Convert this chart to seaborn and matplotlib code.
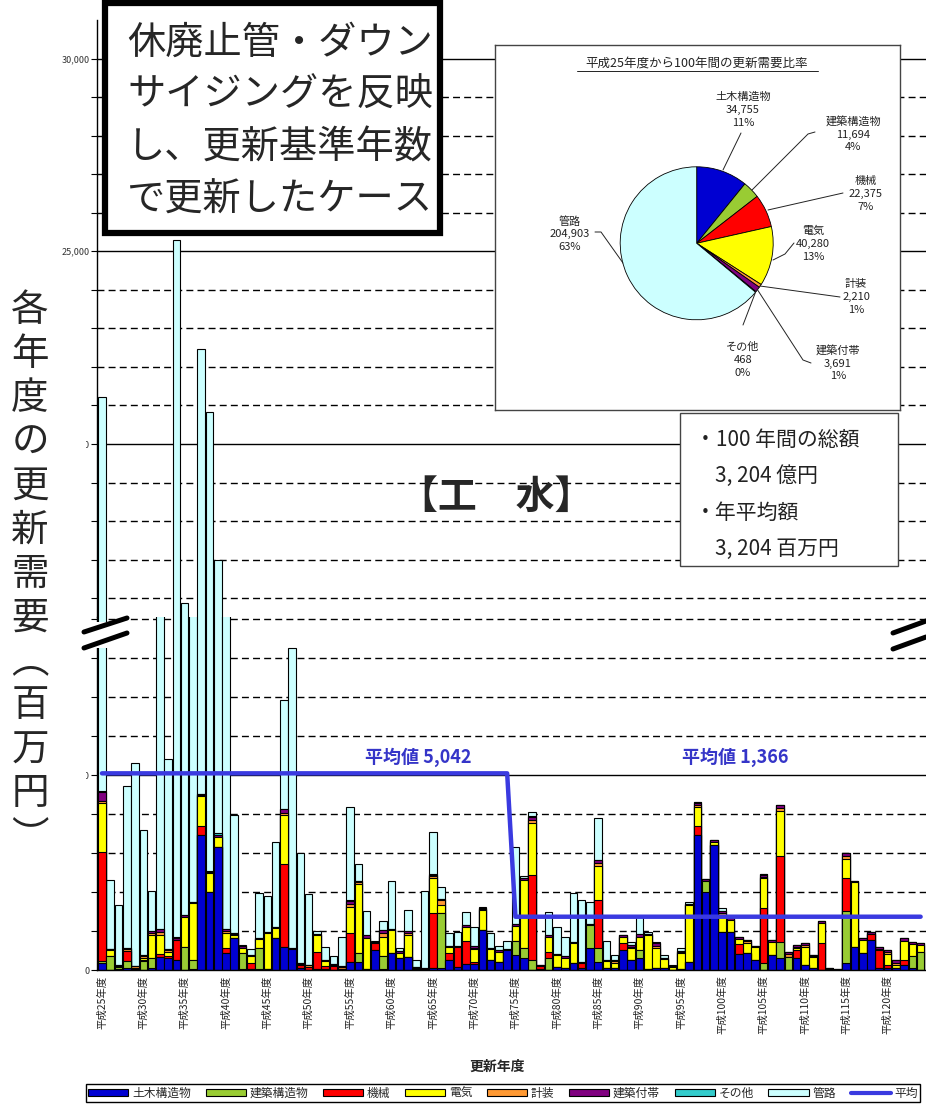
import numpy as np
import pandas as pd
import matplotlib
matplotlib.use("Agg")
import matplotlib.pyplot as plt
from matplotlib.patches import Rectangle, Patch
from matplotlib.lines import Line2D
import seaborn as sns

# ---------------- data (百万円) ----------------
fiscal_years = [f"平成{n}年度" for n in range(25, 125)]
categories = ["土木構造物", "建築構造物", "機械", "電気", "計装", "建築付帯", "その他", "管路"]

civil = [190, 0, 30, 40, 20, 0, 50, 340, 300, 260,
         0, 30, 3460, 2010, 3160, 430, 810, 30, 20, 30,
         30, 810, 590, 550, 60, 0, 30, 30, 0, 30,
         210, 215, 20, 510, 20, 430, 300, 340, 30, 30,
         60, 50, 255, 80, 150, 150, 1030, 250, 215, 515,
         385, 300, 0, 30, 0, 80, 50, 170, 60, 555,
         215, 40, 40, 515, 260, 300, 20, 60, 40, 0,
         30, 215, 3470, 2010, 3210, 985, 985, 400, 430, 260,
         0, 385, 300, 0, 300, 130, 40, 0, 20, 0,
         170, 600, 430, 770, 40, 60, 40, 130, 60, 0]
building = [40, 360, 40, 200, 40, 220, 250, 0, 0, 0,
            600, 230, 0, 0, 0, 0, 0, 400, 0, 530,
            0, 0, 0, 0, 0, 0, 0, 0, 0, 0,
            0, 215, 0, 0, 340, 0, 0, 0, 0, 0,
            0, 1400, 0, 0, 0, 0, 0, 0, 0, 0,
            360, 260, 260, 0, 300, 0, 0, 0, 0, 600,
            345, 0, 0, 0, 0, 215, 0, 0, 0, 0,
            0, 0, 0, 275, 0, 0, 0, 0, 0, 0,
            170, 0, 430, 345, 0, 0, 0, 0, 0, 0,
            1330, 0, 0, 0, 0, 0, 0, 0, 300, 470]
machinery = [2800, 0, 0, 250, 0, 40, 0, 80, 60, 510,
             0, 0, 220, 0, 0, 130, 0, 0, 170, 0,
             0, 0, 2140, 0, 80, 80, 440, 80, 100, 0,
             730, 0, 0, 170, 0, 0, 0, 0, 0, 0,
             1390, 0, 175, 520, 600, 60, 0, 0, 0, 0,
             0, 0, 2180, 80, 170, 0, 0, 0, 110, 0,
             1240, 0, 0, 170, 0, 0, 0, 0, 0, 0,
             0, 0, 210, 0, 0, 0, 0, 260, 0, 0,
             1410, 0, 2180, 0, 215, 0, 0, 680, 0, 0,
             850, 0, 0, 160, 470, 80, 0, 130, 0, 0]
electrical = [1240, 150, 0, 0, 0, 60, 600, 480, 90, 0,
              770, 1450, 770, 470, 260, 380, 90, 130, 160, 240,
              930, 260, 1240, 0, 0, 0, 430, 120, 0, 0,
              680, 1775, 790, 0, 495, 595, 130, 560, 0, 0,
              900, 220, 170, 0, 365, 320, 510, 290, 255, 0,
              385, 1750, 1330, 0, 385, 300, 270, 515, 0, 0,
              870, 200, 150, 150, 300, 340, 880, 500, 250, 80,
              400, 1450, 510, 0, 80, 430, 300, 130, 255, 340,
              770, 345, 1170, 0, 50, 470, 300, 515, 0, 0,
              490, 1650, 340, 0, 0, 280, 100, 480, 300, 170]
instrument = [50, 20, 20, 60, 30, 40, 50, 80, 60, 0,
              0, 0, 30, 0, 0, 60, 20, 0, 0, 0,
              0, 0, 60, 0, 20, 40, 0, 0, 40, 40,
              80, 40, 0, 0, 90, 0, 0, 40, 30, 0,
              50, 130, 0, 0, 0, 40, 20, 0, 0, 0,
              0, 0, 80, 0, 0, 0, 0, 0, 0, 0,
              80, 0, 40, 0, 40, 0, 0, 60, 0, 20,
              30, 0, 40, 0, 0, 40, 0, 0, 65, 0,
              30, 0, 80, 60, 30, 40, 20, 0, 0, 0,
              70, 0, 0, 0, 40, 40, 35, 0, 0, 0]
attached = [250, 15, 40, 25, 15, 20, 40, 60, 25, 50,
            50, 25, 20, 25, 50, 45, 40, 60, 30, 25,
            25, 25, 90, 25, 20, 20, 25, 20, 25, 40,
            70, 40, 90, 40, 80, 30, 50, 55, 20, 20,
            35, 25, 25, 25, 50, 40, 40, 25, 40, 20,
            45, 50, 70, 25, 30, 25, 40, 40, 25, 30,
            60, 20, 25, 50, 40, 60, 30, 60, 20, 15,
            25, 20, 50, 55, 40, 50, 40, 50, 25, 20,
            50, 45, 60, 45, 40, 40, 25, 65, 20, 15,
            80, 25, 40, 35, 30, 40, 70, 80, 50, 40]
other = [30, 0, 0, 0, 0, 0, 0, 0, 0, 30,
         0, 0, 20, 30, 30, 0, 0, 0, 0, 0,
         0, 0, 20, 0, 0, 0, 0, 0, 0, 0,
         20, 0, 0, 0, 0, 0, 0, 0, 0, 0,
         20, 0, 0, 0, 0, 0, 0, 0, 0, 0,
         0, 0, 20, 0, 0, 0, 0, 0, 0, 0,
         20, 0, 0, 0, 0, 0, 0, 0, 0, 0,
         0, 0, 20, 0, 0, 0, 0, 0, 0, 0,
         20, 0, 20, 0, 0, 0, 0, 0, 0, 0,
         20, 0, 0, 0, 0, 0, 0, 0, 0, 0]
pipeline = [16630, 1770, 1540, 4155, 5190, 3200, 1040, 11930, 4880, 24430,
            14460, 11050, 17950, 18295, 13485, 10430, 3010, 30, 160, 1160,
            900, 2180, 2780, 7680, 2810, 1815, 85, 340, 205, 725,
            2400, 430, 600, 30, 235, 1235, 90, 555, 165, 1975,
            1090, 315, 317, 345, 325, 480, 20, 380, 100, 200,
            1980, 40, 110, 0, 605, 710, 490, 1245, 1610, 555,
            1070, 475, 130, 0, 85, 435, 50, 35, 80, 25,
            75, 65, 0, 0, 0, 90, 0, 0, 0, 0,
            0, 0, 0, 15, 5, 0, 0, 5, 0, 0,
            0, 0, 0, 0, 0, 10, 0, 10, 5, 0]

period_avg = [5042, 1366]
period_years = [50, 50]

pie_values = [34755, 11694, 22375, 40280, 2210, 3691, 468, 204903]
pie_pct = [11, 4, 7, 13, 1, 1, 0, 63]

summary_lines = ["・100 年間の総額", "3, 204 億円", "・年平均額", "3, 204 百万円"]

# ---------------- style ----------------
sns.set_theme(style="white")
plt.rcParams['font.family'] = ['Noto Sans CJK JP', 'DejaVu Sans']

colors = ["#0000D2", "#99CC33", "#FF0000", "#FFFF00", "#FF9933", "#800080", "#33CCCC", "#CCFFFF"]
avg_color = "#3A3AE0"

W, H = 926, 1105
fig = plt.figure(figsize=(W / 100, H / 100), dpi=100)


def fbox(x0, y0, x1, y1):
    """pixel box (top-left origin) -> figure fraction [l, b, w, h]"""
    return [x0 / W, 1 - y1 / H, (x1 - x0) / W, (y1 - y0) / H]


def fpt(x, y):
    return x / W, 1 - y / H


ax_up = fig.add_axes(fbox(97, 20, 926, 617))
ax_lo = fig.add_axes(fbox(97, 617, 926, 970))

layers = np.array([civil, building, machinery, electrical, instrument, attached, other, pipeline])
cum = layers.cumsum(axis=0)
idx = np.arange(len(fiscal_years))

limits = {ax_up: (15513, 31000), ax_lo: (0, 9050)}

for ax in (ax_up, ax_lo):
    lo, hi = limits[ax]
    for k in reversed(range(len(categories))):
        df = pd.DataFrame({"year": idx, "top": cum[k]})
        sns.barplot(data=df, x="year", y="top", color=colors[k], saturation=1,
                    edgecolor="black", linewidth=0.8, width=0.92, errorbar=None,
                    ax=ax, zorder=2)
    # grid: solid every 5,000, dashed every 1,000
    for v in range(1000, 31000, 1000):
        if lo < v < hi:
            if v % 5000 == 0:
                ax.axhline(v, color="black", lw=1.0, zorder=0.5)
            else:
                ax.axhline(v, color="black", lw=1.0, ls=(0, (5, 3)), zorder=0.5)
    ax.set_ylim(lo, hi)
    ax.set_xlim(-0.6, 99.65)
    ax.set_xlabel("")
    ax.set_ylabel("")
    ticks = [v for v in range(0, 31000, 1000) if lo <= v < hi]
    ax.set_yticks(ticks)
    ax.set_yticklabels([f"{v:,}" if v % 5000 == 0 else "" for v in ticks])
    ax.tick_params(axis="y", left=True, length=4, width=0.8, color="black",
                   labelsize=6.5, labelcolor="#333333", pad=1.5)
    for s in ("top", "right"):
        ax.spines[s].set_visible(False)
    ax.spines["left"].set_color("black")
    ax.spines["left"].set_linewidth(1.0)
    ax.set_facecolor("white")

ax_up.spines["bottom"].set_visible(False)
ax_up.set_xticks([])
ax_lo.spines["bottom"].set_color("black")
ax_lo.spines["bottom"].set_linewidth(1.0)
ax_lo.set_xticks(idx[::5])
ax_lo.set_xticklabels(fiscal_years[::5], rotation=90, fontsize=7.5, color="#222222")
ax_lo.tick_params(axis="x", length=0, pad=4)

# period averages
avg_per_year = np.repeat(period_avg, period_years)
sns.lineplot(x=idx, y=avg_per_year, ax=ax_lo, color=avg_color, lw=3.2, zorder=4)
fig.text(*fpt(418, 757), f"平均値 {period_avg[0]:,}", color="#3535C8",
         fontsize=13, fontweight="bold", ha="center", va="center")
fig.text(*fpt(735, 757), f"平均値 {period_avg[1]:,}", color="#3535C8",
         fontsize=13, fontweight="bold", ha="center", va="center")

# ---------------- pie inset ----------------
ax_pie = fig.add_axes(fbox(495, 45, 900, 410))
cx, cy, r = 201.7, 166.7, 76.5
ax_pie.pie(pie_values, colors=colors, startangle=90, counterclock=False,
           center=(cx, cy), radius=r,
           wedgeprops=dict(edgecolor="black", linewidth=0.6))
ax_pie.set_xlim(0, 405)
ax_pie.set_ylim(0, 365)
ax_pie.set_aspect("equal")
ax_pie.set_frame_on(True)
ax_pie.set_xticks([])
ax_pie.set_yticks([])
for s in ax_pie.spines.values():
    s.set_visible(True)
    s.set_color("#444444")
    s.set_linewidth(1.0)
ax_pie.set_facecolor("white")
ax_pie.text(cx, 347, "平成25年度から100年間の更新需要比率", ha="center", va="center",
            fontsize=9, color="#222222")
ax_pie.plot([82, 323], [339, 339], color="#222222", lw=0.7)

label_pos = [(248, 300), (358, 276), (371, 216), (318, 166),
             (361, 113), (343, 47), (248, 50), (75, 176)]
leaders = [
    [(246, 277), (228, 240)],
    [(320, 278), (313, 276), (257, 220)],
    [(348, 217), (273, 200)],
    [(299, 167), (290, 156), (278, 150)],
    [(345, 113), (265, 124)],
    [(316, 47), (308, 50), (262, 121)],
    [(248, 85), (261, 119)],
    [(100, 178), (106, 178), (128, 147)],
]
for name, val, pct, (u, v), path in zip(categories, pie_values, pie_pct, label_pos, leaders):
    ax_pie.text(u, v, f"{name}\n{val:,}\n{pct}%", ha="center", va="center",
                fontsize=8, linespacing=1.35, color="#222222")
    xs, ys = zip(*path)
    ax_pie.plot(xs, ys, color="#222222", lw=0.7)

# ---------------- annotations ----------------
fig.add_artist(Rectangle(fbox(105, 3, 440, 233)[:2], (440 - 105) / W, (233 - 3) / H,
                         transform=fig.transFigure, facecolor="white",
                         edgecolor="black", lw=4.5, zorder=5))
for text, yc in zip(["休廃止管・ダウン", "サイジングを反映", "し、更新基準年数", "で更新したケース"],
                    [43, 95, 148, 200]):
    fig.text(*fpt(127, yc), text, fontsize=27.5, ha="left", va="center", zorder=6)

fig.add_artist(Rectangle(fbox(680, 413, 898, 566)[:2], (898 - 680) / W, (566 - 413) / H,
                         transform=fig.transFigure, facecolor="white",
                         edgecolor="#444444", lw=1.0, zorder=5))
for text, (xl, yc) in zip(summary_lines, [(695, 440), (715, 476), (695, 513), (715, 549)]):
    fig.text(*fpt(xl, yc), text, fontsize=15, ha="left", va="center",
             color="#222222", zorder=6)

fig.text(*fpt(496, 497), "【工　水】", fontsize=28, fontweight="bold",
         ha="center", va="center")

# axis break marks
for x0, x1 in [(80, 130), (890, 926)]:
    fig.add_artist(Rectangle(fbox(x0, 622, x1, 648)[:2], (x1 - x0) / W, 26 / H,
                             transform=fig.transFigure, facecolor="white",
                             edgecolor="none", zorder=5))
for (xa, ya), (xb, yb) in [((84, 632), (127, 618)), ((84, 648), (127, 633)),
                           ((893, 633), (926, 621)), ((893, 649), (926, 637))]:
    fig.add_artist(Line2D([xa / W, xb / W], [1 - ya / H, 1 - yb / H],
                          transform=fig.transFigure, color="black", lw=3.6, zorder=6))

# y-axis title (upright vertical text)
fig.add_artist(Rectangle(fbox(0, 282, 86, 860)[:2], 86 / W, (860 - 282) / H,
                         transform=fig.transFigure, facecolor="white",
                         edgecolor="none", zorder=5))
ylabel_chars = "各年度の更新需要︵百万円︶"
fig.text(*fpt(30, 574), "\n".join(ylabel_chars), fontsize=27, ha="center",
         va="center", linespacing=1.165, zorder=6)

# x-axis title
fig.text(*fpt(497, 1067), "更新年度", fontsize=10, fontweight="bold",
         ha="center", va="center")

# legend
handles = [Patch(facecolor=c, edgecolor="black", lw=0.8) for c in colors]
handles.append(Line2D([], [], color=avg_color, lw=3))
leg = fig.legend(handles, categories + ["平均"], loc="center",
                 bbox_to_anchor=fbox(80, 1083, 926, 1103), bbox_transform=fig.transFigure,
                 mode="expand", ncol=9, fontsize=8.5, handlelength=3.4, handleheight=0.55,
                 handletextpad=0.3, columnspacing=0.6, borderpad=0.2,
                 frameon=True, fancybox=False, edgecolor="black", framealpha=1)
leg.get_frame().set_linewidth(1.0)

fig.savefig("out.png", dpi=100, facecolor="white")
